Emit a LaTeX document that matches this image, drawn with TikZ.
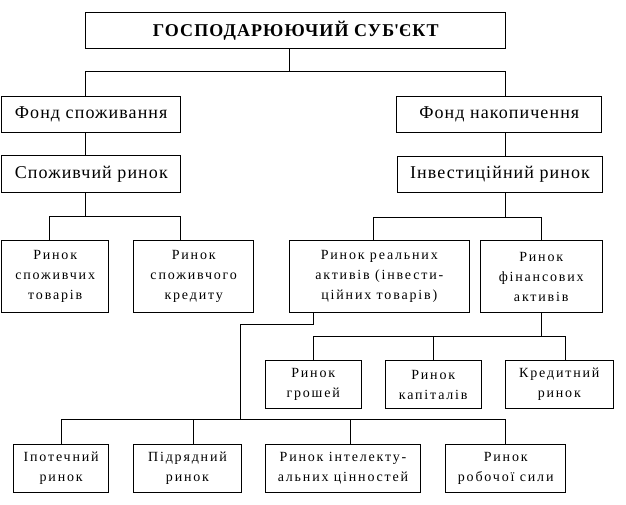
\documentclass[tikz,border=0pt]{standalone}
\usepackage{fontspec}
\setmainfont{Liberation Serif}
\newfontfamily\spacedf[LetterSpace=13]{Liberation Serif}
\newfontfamily\bigspf[LetterSpace=6]{Liberation Serif}
\begin{document}
\begin{tikzpicture}[x=1pt,y=-1pt,line width=1pt,
  box/.style={draw,rectangle,inner sep=0pt,align=center},
  bigbox/.style={box,font=\bigspf\fontsize{18}{22}\selectfont},
  titlebox/.style={box,font=\bigspf\fontsize{18}{22}\selectfont\bfseries},
  smallbox/.style={box,font=\spacedf\fontsize{14}{20}\selectfont},
  conn/.style={draw,line width=1pt}]
\useasboundingbox (0,0) rectangle (626,505);
% level 0
\node[titlebox,minimum width=420pt,minimum height=36pt] (title) at (295.7,30.3) {ГОСПОДАРЮЮЧИЙ СУБ\textquotesingle ЄКТ};
% level 1
\node[bigbox,minimum width=179pt,minimum height=35.6pt] (fs) at (91.2,114.5) {Фонд споживання};
\node[bigbox,minimum width=205.3pt,minimum height=35.6pt] (fn) at (499.3,114.5) {Фонд накопичення};
% level 2
\node[bigbox,minimum width=178.7pt,minimum height=36.7pt] (sr) at (91.3,174.3) {Споживчий ринок};
\node[bigbox,minimum width=205.4pt,minimum height=36.4pt] (ir) at (500,174.5) {Інвестиційний ринок};
% level 3
\node[smallbox,minimum width=107pt,minimum height=71.6pt] (st) at (55.2,276.5) {Ринок\\споживчих\\товарів};
\node[smallbox,minimum width=120pt,minimum height=71.6pt] (sk) at (193.7,276.5) {Ринок\\споживчого\\кредиту};
\node[smallbox,minimum width=180pt,minimum height=71.6pt] (ra) at (379.3,276.5) {Ринок реальних\\активів (інвести-\\ційних товарів)};
\node[smallbox,minimum width=121.7pt,minimum height=71.6pt] (fa) at (541.2,276.5) {Ринок\\фінансових\\активів};
% level 4
\node[smallbox,minimum width=95.7pt,minimum height=47.6pt] (gr) at (313.2,384.5) {Ринок\\грошей};
\node[smallbox,minimum width=95.7pt,minimum height=47.6pt] (kp) at (433.2,384.5) {Ринок\\капіталів};
\node[smallbox,minimum width=108pt,minimum height=47.6pt] (kr) at (559.3,384.5) {Кредитний\\ринок};
% level 5
\node[smallbox,minimum width=95pt,minimum height=48pt] (ip) at (61.2,468.3) {Іпотечний\\ринок};
\node[smallbox,minimum width=107.6pt,minimum height=48pt] (pd) at (187.5,468.3) {Підрядний\\ринок};
\node[smallbox,minimum width=155.4pt,minimum height=48pt] (in) at (343,468.3) {Ринок інтелекту-\\альних цінностей};
\node[smallbox,minimum width=120pt,minimum height=48pt] (rs) at (505.7,468.3) {Ринок\\робочої сили};
% junction coordinates
\coordinate (j0) at (289.3,72);
\coordinate (jl) at (85.7,72);
\coordinate (jr) at (505.7,72);
\coordinate (js) at (85.7,216);
\coordinate (jsl) at (49.3,216);
\coordinate (jsr) at (180.3,216);
\coordinate (ji) at (505.7,217.7);
\coordinate (jil) at (373,217.7);
\coordinate (jir) at (541.3,217.7);
\coordinate (ja) at (313.3,324.3);
\coordinate (jb) at (240.7,324.3);
\coordinate (jc) at (240.7,419.3);
\coordinate (jcl) at (61.3,419.3);
\coordinate (jcr) at (505.7,419.3);
\coordinate (jcp) at (193.3,419.3);
\coordinate (jci) at (350,419.3);
\coordinate (jf) at (541.3,336);
\coordinate (jfl) at (313.3,336);
\coordinate (jfr) at (565.7,336);
% connectors
\draw[conn] (title.south -| j0) -- (j0);
\draw[conn] (fs.north -| jl) -- (jl) -- (jr) -- (fn.north -| jr);
\draw[conn] (fs.south -| jl) -- (sr.north -| jl);
\draw[conn] (fn.south -| jr) -- (ir.north -| jr);
\draw[conn] (sr.south -| js) -- (js);
\draw[conn] (st.north -| jsl) -- (jsl) -- (jsr) -- (sk.north -| jsr);
\draw[conn] (ir.south -| ji) -- (ji);
\draw[conn] (ra.north -| jil) -- (jil) -- (jir) -- (fa.north -| jir);
\draw[conn] (ra.south -| ja) -- (ja) -- (jb) -- (jc);
\draw[conn] (ip.north -| jcl) -- (jcl) -- (jcr) -- (rs.north -| jcr);
\draw[conn] (pd.north -| jcp) -- (jcp);
\draw[conn] (in.north -| jci) -- (jci);
\draw[conn] (fa.south -| jf) -- (jf);
\draw[conn] (gr.north -| jfl) -- (jfl) -- (jfr) -- (kr.north -| jfr);
\draw[conn] (kp.north) -- (kp.north |- jf);
\end{tikzpicture}
\end{document}
